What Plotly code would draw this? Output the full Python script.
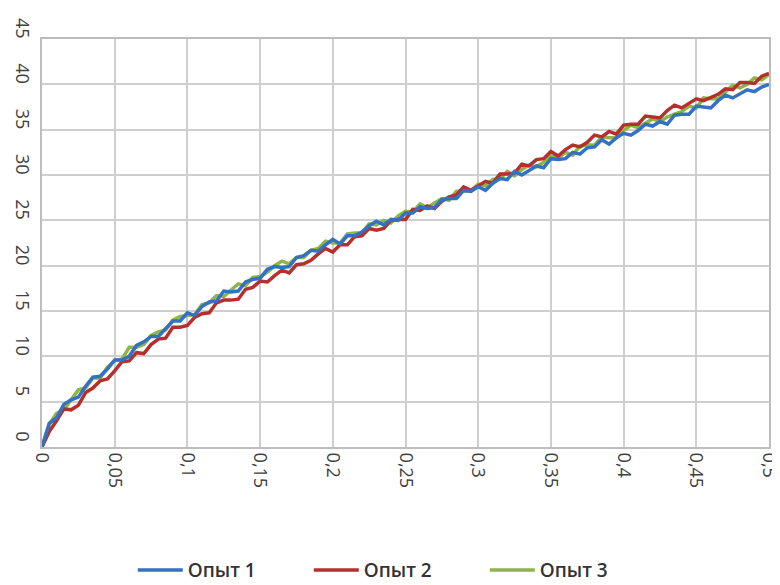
import plotly.graph_objects as go

x_values = [round(i * 0.005, 3) for i in range(101)]

opyt1 = [0.0, 2.6, 3.2, 4.7, 5.2, 5.5, 6.7, 7.7, 7.8, 8.6,
         9.6, 9.6, 10.0, 11.2, 11.6, 12.2, 12.2, 13.0, 13.9, 13.9,
         14.8, 14.5, 15.5, 16.0, 16.1, 17.2, 17.1, 17.2, 18.2, 18.5,
         18.6, 19.6, 19.9, 19.8, 19.9, 20.9, 21.1, 21.7, 21.6, 22.3,
         22.9, 22.4, 23.3, 23.3, 23.7, 24.4, 24.9, 24.5, 25.1, 25.0,
         25.8, 25.8, 26.5, 26.3, 26.4, 27.3, 27.4, 27.4, 28.3, 28.2,
         28.7, 28.3, 29.1, 29.6, 29.5, 30.4, 30.0, 30.5, 31.0, 30.8,
         31.8, 31.7, 31.8, 32.5, 32.3, 33.0, 33.1, 33.9, 33.4, 34.1,
         34.6, 34.4, 34.9, 35.6, 35.4, 35.9, 35.6, 36.6, 36.7, 36.7,
         37.6, 37.5, 37.4, 38.2, 38.8, 38.5, 39.0, 39.4, 39.2, 39.7,
         40.0]

opyt2 = [0.0, 1.7, 2.9, 4.2, 4.1, 4.6, 6.0, 6.5, 7.3, 7.5,
         8.4, 9.4, 9.5, 10.4, 10.3, 11.3, 11.9, 12.0, 13.2, 13.2,
         13.4, 14.3, 14.7, 14.8, 15.9, 16.2, 16.2, 16.3, 17.4, 17.6,
         18.3, 18.2, 18.9, 19.5, 19.2, 20.1, 20.2, 20.6, 21.3, 21.9,
         21.5, 22.3, 22.3, 23.2, 23.3, 24.1, 23.9, 24.1, 25.0, 25.1,
         25.1, 26.2, 26.1, 26.6, 26.3, 27.1, 27.6, 27.8, 28.7, 28.3,
         28.8, 29.3, 29.1, 30.1, 30.1, 30.2, 31.2, 31.0, 31.7, 31.8,
         32.6, 32.1, 32.8, 33.3, 33.1, 33.6, 34.4, 34.2, 34.8, 34.5,
         35.5, 35.6, 35.6, 36.5, 36.4, 36.3, 37.1, 37.7, 37.4, 37.9,
         38.4, 38.2, 38.6, 38.9, 39.5, 39.4, 40.2, 40.2, 40.1, 40.9,
         41.2]

opyt3 = [0.0, 2.5, 3.7, 4.1, 5.2, 6.3, 6.5, 7.6, 7.6, 8.8,
         9.5, 9.7, 11.0, 11.0, 11.3, 12.3, 12.7, 12.9, 14.0, 14.4,
         14.5, 14.6, 15.7, 15.9, 16.7, 16.6, 17.3, 18.0, 17.8, 18.7,
         18.8, 19.3, 20.0, 20.5, 20.2, 20.9, 20.9, 21.7, 21.9, 22.7,
         22.5, 22.5, 23.5, 23.6, 23.6, 24.6, 24.5, 25.0, 24.7, 25.5,
         26.0, 25.9, 26.8, 26.4, 26.9, 27.4, 27.2, 28.2, 28.2, 28.3,
         29.0, 28.8, 29.5, 29.6, 30.4, 29.9, 30.6, 31.1, 30.9, 31.4,
         32.1, 31.9, 32.5, 32.2, 33.2, 33.3, 33.3, 34.2, 34.1, 34.1,
         34.9, 35.5, 35.2, 35.7, 36.2, 35.9, 36.4, 36.7, 37.0, 37.6,
         37.4, 38.5, 38.4, 38.4, 39.2, 39.9, 39.6, 40.0, 40.7, 40.5,
         41.1]

series_names = ["Опыт 1", "Опыт 2", "Опыт 3"]
x_tick_vals = [0, 0.05, 0.1, 0.15, 0.2, 0.25, 0.3, 0.35, 0.4, 0.45, 0.5]
x_tick_text = ["0", "0,05", "0,1", "0,15", "0,2", "0,25", "0,3", "0,35", "0,4", "0,45", "0,5"]
y_tick_vals = [0, 5, 10, 15, 20, 25, 30, 35, 40, 45]

colors = {"Опыт 1": "#3471C1", "Опыт 2": "#B5302C", "Опыт 3": "#8DB548"}
data = {"Опыт 1": opyt1, "Опыт 2": opyt2, "Опыт 3": opyt3}
ranks = {"Опыт 1": 1, "Опыт 2": 2, "Опыт 3": 3}

fig = go.Figure()
for name in ["Опыт 3", "Опыт 2", "Опыт 1"]:
    fig.add_trace(go.Scatter(
        x=x_values, y=data[name], mode="lines", name=name,
        line=dict(color=colors[name], width=3.5),
        legendrank=ranks[name],
    ))

font_family = "Open Sans, Noto Sans, sans-serif"
fig.update_layout(
    width=772, height=577,
    margin=dict(l=34, r=11, t=31, b=138, autoexpand=False),
    paper_bgcolor="white", plot_bgcolor="white",
    font=dict(family=font_family, color="#404040", size=15),
    legend=dict(orientation="h", x=0.488, xanchor="center",
                y=-0.302, yanchor="middle",
                font=dict(size=19, color="#333333", weight=600),
                traceorder="normal", itemwidth=45,
                entrywidth=116, entrywidthmode="pixels"),
    showlegend=True,
)
fig.update_xaxes(
    range=[0, 0.5], tickvals=x_tick_vals, ticktext=x_tick_text,
    tickangle=90, showgrid=True, gridcolor="#CFCFCF", gridwidth=2,
    showline=True, linecolor="#BDBDBD", linewidth=2, mirror=True,
    zeroline=False, ticks="", tickfont=dict(size=18), automargin=False,
    ticklabeloverflow="allow", ticklabelstandoff=0,
)
fig.update_yaxes(
    range=[0, 45], tickvals=y_tick_vals,
    tickangle=90, showgrid=True, gridcolor="#CFCFCF", gridwidth=2,
    showline=True, linecolor="#BDBDBD", linewidth=2, mirror=True,
    zeroline=False, ticks="", tickfont=dict(size=18),
    ticklabelshift=-8, ticklabelstandoff=2, automargin=False,
)

fig.write_html("out.html")
